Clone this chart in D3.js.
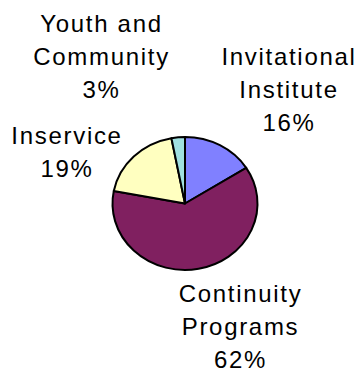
<!DOCTYPE html>
<meta charset="utf-8">
<style>
  body { margin: 0; background: #fff; }
  text { font-family: "Liberation Sans", Arial, sans-serif; font-size: 24px; letter-spacing: 1.7px; fill: #000; }
</style>
<svg width="357" height="372"></svg>
<script src="https://d3js.org/d3.v7.min.js"></script>
<script>
// slice data, clockwise from 12 o'clock
var categories = ["Invitational Institute", "Continuity Programs", "Inservice", "Youth and Community"];
var values = [16, 62, 19, 3];
var colors = ["#8080FF", "#802060", "#FFFFC0", "#A0E0E0"];
// label lines as printed in the chart
var labelLines = [
  ["Invitational", "Institute", "16%"],
  ["Continuity", "Programs", "62%"],
  ["Inservice", "19%"],
  ["Youth and", "Community", "3%"]
];

var svg = d3.select("svg"),
    cx = 185, cy = 203.5,
    rx = 72.5, ry = 66.5;

var data = categories.map(function(c, i) { return {name: c, value: values[i]}; });

var pie = d3.pie().sort(null).value(function(d) { return d.value; });
var arc = d3.arc().innerRadius(0).outerRadius(rx);

var g = svg.append("g")
    .attr("transform", "translate(" + cx + "," + cy + ") scale(1," + (ry / rx) + ")");

g.selectAll("path")
  .data(pie(data))
  .enter().append("path")
    .attr("d", arc)
    .attr("fill", function(d, i) { return colors[i]; })
    .attr("stroke", "#000")
    .attr("stroke-width", 2)
    .attr("stroke-linejoin", "round")
    .attr("vector-effect", "non-scaling-stroke");

// label anchors (centre x, first baseline)
var labelPos = [[289, 64.5], [240.5, 301.5], [67, 144], [101.5, 32]];
var lineH = 33;

var labels = svg.append("g")
  .selectAll("text")
  .data(labelLines)
  .enter().append("text")
    .attr("text-anchor", "middle")
    .attr("transform", function(d, i) { return "translate(" + labelPos[i][0] + "," + labelPos[i][1] + ")"; });

labels.selectAll("tspan")
  .data(function(d) { return d; })
  .enter().append("tspan")
    .attr("x", 0)
    .attr("y", function(d, j) { return j * lineH; })
    .text(function(d) { return d; });
</script>
